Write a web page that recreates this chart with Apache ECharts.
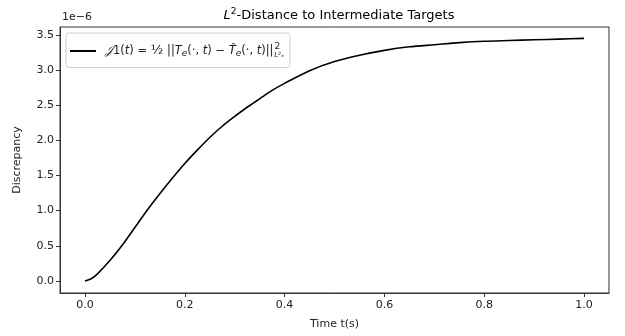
<!DOCTYPE html>
<html>
<head>
<meta charset="utf-8">
<script src="https://cdn.jsdelivr.net/npm/echarts@6/dist/echarts.min.js"></script>
<style>html,body{margin:0;padding:0;background:#fff;}#c{width:625px;height:336px;}</style>
</head>
<body>
<div id="c"></div>
<script>
// Time samples (s)
var times = [0, 0.0125, 0.025, 0.05, 0.075, 0.1, 0.125, 0.15, 0.175, 0.2, 0.225, 0.25, 0.275, 0.3, 0.325, 0.35, 0.375, 0.4, 0.45, 0.5, 0.55, 0.6, 0.65, 0.7, 0.75, 0.8, 0.85, 0.9, 0.95, 1.0];
// Discrepancy values, in units of 1e-6
var discrepancy = [0, 0.03, 0.10, 0.29, 0.51, 0.76, 1.01, 1.24, 1.46, 1.67, 1.86, 2.04, 2.20, 2.34, 2.47, 2.59, 2.71, 2.81, 2.99, 3.12, 3.21, 3.28, 3.33, 3.36, 3.39, 3.41, 3.42, 3.43, 3.44, 3.45];
var xTicks = [0, 0.2, 0.4, 0.6, 0.8, 1.0];
var yTicks = [0, 0.5, 1.0, 1.5, 2.0, 2.5, 3.0, 3.5];
var seriesName = 'J1';

var FONT = 'DejaVu Sans';
var points = times.map(function (t, i) { return [t, discrepancy[i]]; });

var chart = echarts.init(document.getElementById('c'), null, { renderer: 'canvas' });
chart.setOption({
  animation: false,
  backgroundColor: '#fff',
  textStyle: { fontFamily: FONT },
  title: {
    text: '{m|L}{s|2}-Distance to Intermediate Targets',
    left: 334, top: 2, textAlign: 'center',
    textStyle: {
      fontFamily: FONT, fontSize: 13, fontWeight: 'normal', color: '#000',
      rich: {
        m: { fontFamily: FONT, fontStyle: 'italic', fontSize: 13, color: '#000' },
        s: { fontFamily: FONT, fontSize: 9, verticalAlign: 'top', padding: [0, 0, 8, 0], color: '#000' }
      }
    }
  },
  graphic: [{
    type: 'text', left: 62, top: 12,
    style: { text: '1e\u22126', font: '11px "DejaVu Sans"', fill: '#222' }
  }],
  legend: {
    left: 66, top: 33,
    padding: [9, 6, 9, 4],
    itemWidth: 26, itemHeight: 2, itemGap: 0,
    icon: 'rect',
    borderColor: '#d0d0d0', borderWidth: 1, borderRadius: 3,
    backgroundColor: 'rgba(255,255,255,0.8)',
    data: [seriesName],
    formatter: function () {
      return '{i|\uD835\uDCA5}{n|1(}{i|t}{n|) = }{f|\u00BD}{n| ||}{i|T}{b|e}{n|(\u00B7, }{i|t}{n|) \u2212 }{i|T\u0302}{b|e}{n|(\u00B7, }{i|t}{n|)||}{p|2}{q|L\u00B2\u2093}';
    },
    textStyle: {
      fontFamily: FONT, fontSize: 12, color: '#222', padding: [0, 0, 0, 4],
      rich: {
        n: { fontFamily: FONT, fontSize: 11.5, color: '#222' },
        i: { fontFamily: FONT, fontStyle: 'italic', fontSize: 11.5, color: '#222' },
        f: { fontFamily: FONT, fontSize: 13, color: '#222' },
        b: { fontFamily: FONT, fontStyle: 'italic', fontSize: 9, color: '#222', padding: [5, 0, 0, 0] },
        p: { fontFamily: FONT, fontSize: 9, color: '#222', padding: [0, 0, 9, 1] },
        q: { fontFamily: FONT, fontStyle: 'italic', fontSize: 7, color: '#222', padding: [8, 0, 0, -6] }
      }
    }
  },
  grid: {
    left: 60, right: 16, top: 27, bottom: 43,
    show: true, borderColor: '#333', borderWidth: 1, backgroundColor: '#fff'
  },
  xAxis: {
    type: 'value', min: -0.05, max: 1.05,
    name: 'Time t(s)', nameLocation: 'middle', nameGap: 26,
    nameTextStyle: { fontFamily: FONT, fontSize: 11, color: '#222' },
    axisLine: { show: true, onZero: false, lineStyle: { color: '#333', width: 1 } },
    axisTick: { show: true, length: 4, customValues: xTicks, lineStyle: { color: '#333' } },
    axisLabel: {
      customValues: xTicks, margin: 7,
      fontFamily: FONT, fontSize: 11, color: '#222',
      formatter: function (v) { return v.toFixed(1); }
    },
    splitLine: { show: false }
  },
  yAxis: {
    type: 'value', min: -0.172, max: 3.612,
    name: 'Discrepancy', nameLocation: 'middle', nameGap: 37, nameRotate: 90,
    nameTextStyle: { fontFamily: FONT, fontSize: 11, color: '#222' },
    axisLine: { show: true, onZero: false, lineStyle: { color: '#333', width: 1 } },
    axisTick: { show: true, length: 4, customValues: yTicks, lineStyle: { color: '#333' } },
    axisLabel: {
      customValues: yTicks, margin: 6,
      fontFamily: FONT, fontSize: 11, color: '#222',
      formatter: function (v) { return v.toFixed(1); }
    },
    splitLine: { show: false }
  },
  series: [{
    name: seriesName,
    type: 'line',
    data: points,
    showSymbol: false, symbol: 'none',
    smooth: 0.3,
    lineStyle: { color: '#000', width: 1.6 },
    itemStyle: { color: '#000' }
  }]
});
</script>
</body>
</html>
